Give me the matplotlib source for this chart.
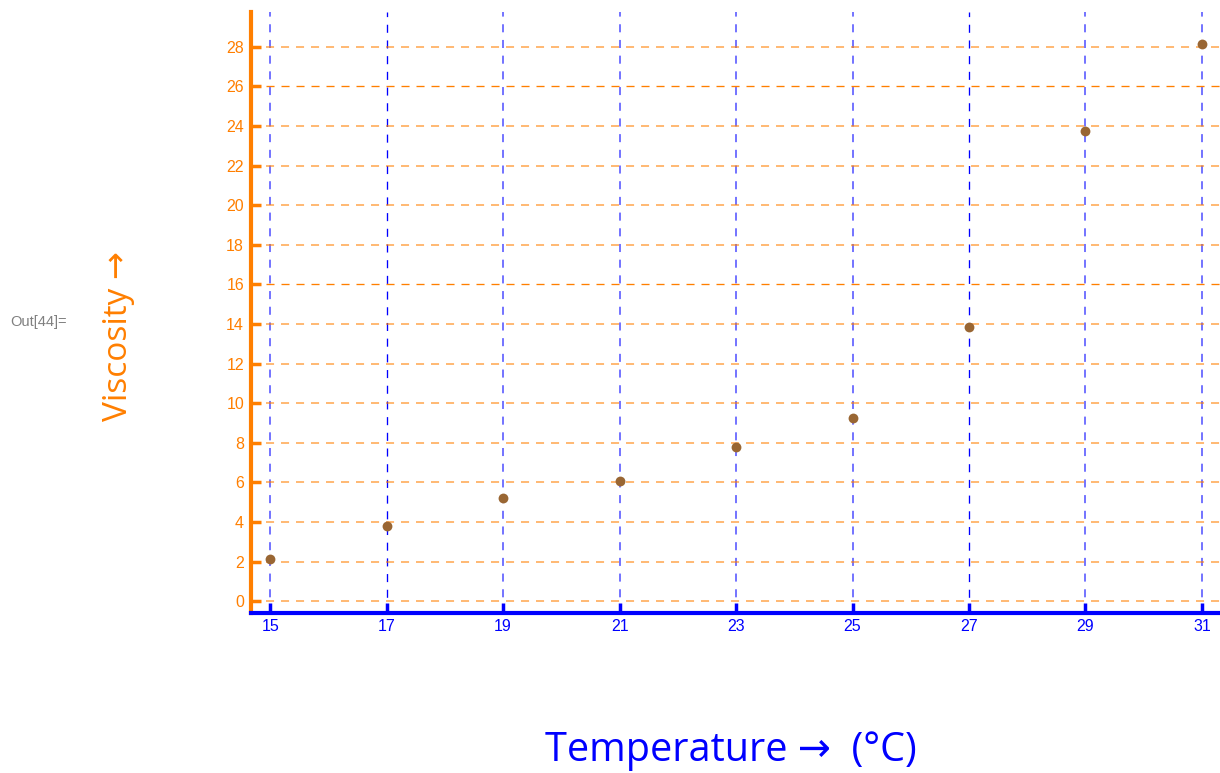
import matplotlib
matplotlib.use("Agg")
import matplotlib.pyplot as plt

# temperature (deg C) vs viscosity readings
temperature = [15, 17, 19, 21, 23, 25, 27, 29, 31]
viscosity = [2.12, 3.79, 5.2, 6.06, 7.78, 9.25, 13.85, 23.75, 28.15]

x_ticks = [15, 17, 19, 21, 23, 25, 27, 29, 31]
y_ticks = list(range(0, 29, 2))

ORANGE = "#ff7f00"
BLUE = "#0000ff"
POINT = "#996633"

plt.rcParams["font.family"] = ["Liberation Sans", "DejaVu Sans"]
plt.rcParams["lines.scale_dashes"] = False

fig = plt.figure(figsize=(12.2, 7.73), dpi=100)
ax = fig.add_axes([0.2057, 0.2070, 0.7943, 0.7775])

ax.set_xlim(14.67, 31.31)
ax.set_ylim(-0.6, 29.76)

# dashed grid: two line weights
for x in x_ticks:
    if x in (17, 27):
        ax.axvline(x, color=BLUE, lw=0.95, dashes=(5.8, 5.5), zorder=1)
    else:
        ax.axvline(x, color=BLUE, lw=1.4, alpha=0.55, dashes=(5.8, 5.5), zorder=1)
for y in y_ticks:
    if y in (16, 26):
        ax.axhline(y, color=ORANGE, lw=0.95, dashes=(5.8, 5.0), zorder=1)
    else:
        ax.axhline(y, color=ORANGE, lw=1.4, alpha=0.55, dashes=(5.8, 5.0), zorder=1)

ax.scatter(temperature, viscosity, s=50, color=POINT, zorder=3, linewidths=0)

for side in ("top", "right"):
    ax.spines[side].set_visible(False)
ax.spines["left"].set_color(ORANGE)
ax.spines["left"].set_linewidth(3)
ax.spines["bottom"].set_color(BLUE)
ax.spines["bottom"].set_linewidth(3)

ax.set_xticks(x_ticks)
ax.set_yticks(y_ticks)
ax.tick_params(axis="x", direction="in", length=7, width=2.5, color=BLUE,
               labelcolor=BLUE, labelsize=11.5, pad=4)
ax.tick_params(axis="y", direction="in", length=7, width=2.5, color=ORANGE,
               labelcolor=ORANGE, labelsize=11.5, pad=5)

fig.text(0.599, 0.029, "Temperature \u2192  (\u00b0C)", color=BLUE, fontsize=28.5,
         family=["Open Sans", "DejaVu Sans"], ha="center", va="center")
fig.text(0.097, 0.565, "Viscosity \u2192", color=ORANGE, fontsize=24,
         family=["Open Sans", "DejaVu Sans"], rotation=90, ha="center", va="center")
fig.text(0.008, 0.583, "Out[44]=", color="#808080", fontsize=10.5, ha="left", va="center")

fig.savefig("out.png", dpi=100)
